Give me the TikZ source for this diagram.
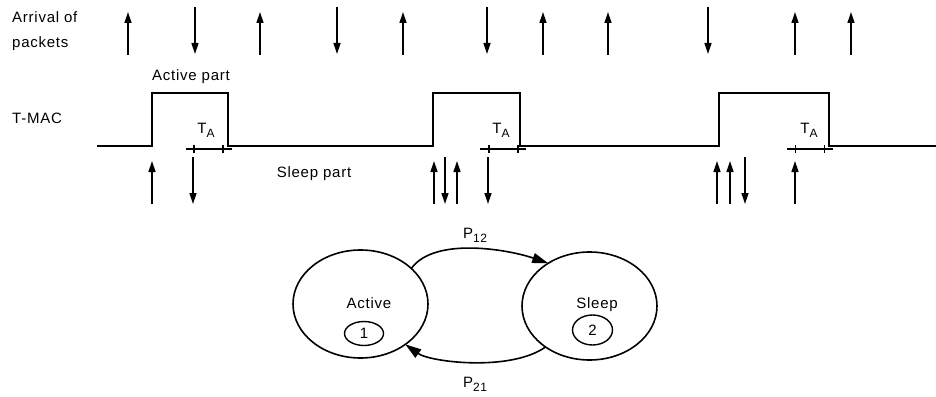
\documentclass[tikz,border=0pt]{standalone}
\usepackage{fontspec}
\setmainfont{Liberation Sans}
\usetikzlibrary{arrows.meta,shapes.geometric}
\newcommand{\subtxt}[1]{\raisebox{-4pt}{\fontsize{12}{12}\selectfont #1}}
\begin{document}
\begin{tikzpicture}[x=1pt,y=-1pt,
  txt/.style={inner sep=0pt, anchor=base, font=\fontsize{15}{17}\selectfont\addfontfeature{LetterSpace=5}},
  txtw/.style={txt, anchor=base west},
  wave/.style={line width=1.7pt, line join=miter},
  tick/.style={line width=1.4pt},
  pkt/.style={line width=1.4pt, -{Triangle[length=11pt,width=7pt]}},
  state/.style={ellipse, draw, line width=1.6pt, inner sep=0pt, outer sep=0pt},
  small/.style={ellipse, draw, line width=1.4pt, inner sep=0pt, outer sep=0pt,
    font=\fontsize{15}{17}\selectfont},
  trans/.style={line width=1.6pt, -{Triangle[length=16pt,width=10pt]}},
]
\useasboundingbox (0,0) rectangle (936,396);

% labels
\node[txtw] (arr1) at (12,23) {Arrival of};
\node[txtw] (arr2) at (12,48) {packets};
\node[txtw] (tmac) at (12,123) {T-MAC};
\node[txt] (act) at (191,80) {Active part};
\node[txt] (slp) at (314,177) {Sleep part};

% top packet arrivals
\foreach \x in {128,260,403,543,608,795,851}
  \draw[pkt] (\x,55) -- (\x,12);
\foreach \x in {195,337,487,708}
  \draw[pkt] (\x,7) -- (\x,54);

% T-MAC waveform
\draw[wave] (97,146) -- (152,146) -- (152,93) -- (228,93) -- (228,146)
  -- (433,146) -- (433,93) -- (520,93) -- (520,146)
  -- (719,146) -- (719,93) -- (829,93) -- (829,146) -- (936,146);

% T_A markers
\foreach \a/\b/\c/\d/\m in {186/194/223/232/206, 480/489/518/526/501, 787/795.5/824.5/833/809}{
  \draw[tick] (\a,149) -- (\d,149);
  \draw[tick] (\b,145) -- (\b,153);
  \draw[tick] (\c,145) -- (\c,153);
  \node[txt] at (\m,133) {T\subtxt{A}};
}

% bottom arrivals
\foreach \x in {152,434,457,717,730,795}
  \draw[pkt] (\x,204) -- (\x,161);
\foreach \x in {193,445,488,745}
  \draw[pkt] (\x,157) -- (\x,204);

% state diagram
\node[state, minimum width=135pt, minimum height=108pt] (L) at (360.5,304) {};
\node[state, minimum width=135pt, minimum height=108pt] (R) at (589.5,306) {};
\node[txt] (Lt) at (369,308) {Active};
\node[txt] (Rt) at (597,308) {Sleep};
\node[small, minimum width=39pt, minimum height=24pt] (L1) at (364,333.5) {1};
\node[small, minimum width=40pt, minimum height=30pt] (R2) at (592.5,330) {2};

\draw[trans] (L.35) .. controls (435,236) and (510,250) .. (R.134);
\draw[trans] (R.223) .. controls (510,372) and (430,362) .. (L.318);
\node[txt] (p12) at (475,238) {P\subtxt{12}};
\node[txt] (p21) at (475,387) {P\subtxt{21}};
\end{tikzpicture}
\end{document}
